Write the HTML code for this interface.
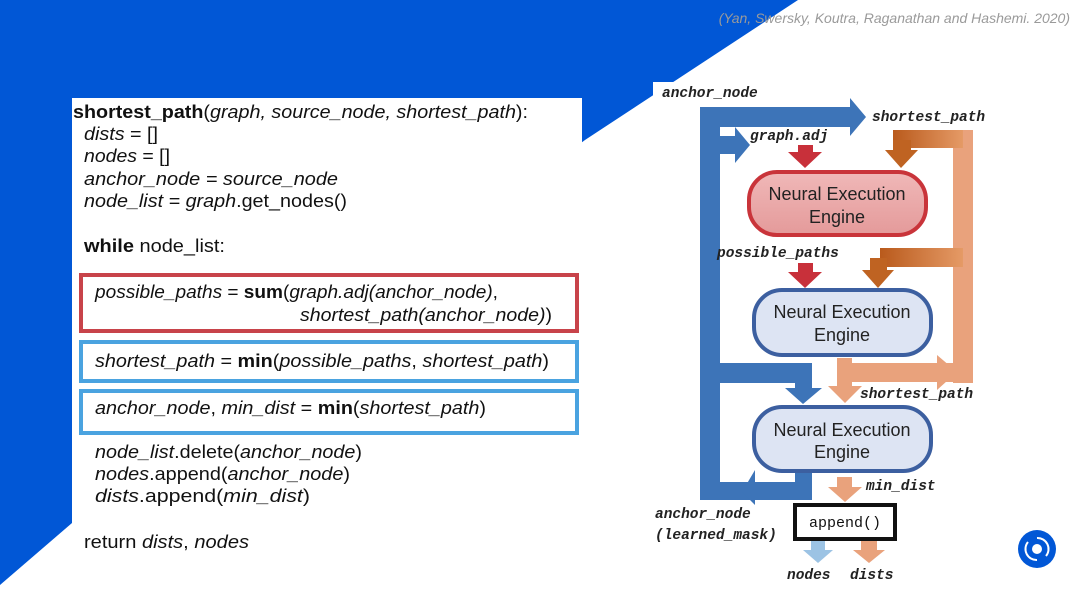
<!DOCTYPE html>
<html><head><meta charset="utf-8"><style>
html,body{margin:0;padding:0;background:#fff}
svg{display:block}
.c{font-family:"Liberation Sans",sans-serif;font-size:18px;fill:#111}
.m{font-family:"Liberation Mono",monospace;font-size:14.5px;font-style:italic;font-weight:bold;fill:#222}
.n{font-family:"Liberation Sans",sans-serif;font-size:18px;fill:#222;text-anchor:middle}
</style></head><body>
<svg width="1080" height="608" viewBox="0 0 1080 608" xmlns="http://www.w3.org/2000/svg">
<defs>
<linearGradient id="og" x1="0" y1="0" x2="1" y2="0"><stop offset="0" stop-color="#b95a1c"/><stop offset="1" stop-color="#e59a66"/></linearGradient>
<linearGradient id="rg" x1="0" y1="0" x2="0" y2="1"><stop offset="0" stop-color="#f0b8b8"/><stop offset="1" stop-color="#e49a9a"/></linearGradient>
</defs>
<polygon points="0,0 798,0 585,140 72,523 0,585" fill="#0157d6"/>
<rect x="72" y="98" width="510" height="510" fill="#fff"/>
<rect x="653" y="82" width="427" height="526" fill="#fff"/>
<text x="1070" y="23" text-anchor="end" style="font-family:'Liberation Sans',sans-serif;font-size:14px;font-style:italic;fill:#9a9a9a">(Yan, Swersky, Koutra, Raganathan and Hashemi. 2020)</text>

<!-- code -->
<text class="c" x="73" y="118" textLength="455" lengthAdjust="spacingAndGlyphs"><tspan font-weight="bold">shortest_path</tspan>(<tspan font-style="italic">graph, source_node, shortest_path</tspan>):</text>
<text class="c" x="84" y="140" textLength="74" lengthAdjust="spacingAndGlyphs"><tspan font-style="italic">dists</tspan> = []</text>
<text class="c" x="84" y="162" textLength="86" lengthAdjust="spacingAndGlyphs"><tspan font-style="italic">nodes</tspan> = []</text>
<text class="c" x="84" y="185" font-style="italic" textLength="254" lengthAdjust="spacingAndGlyphs">anchor_node = source_node</text>
<text class="c" x="84" y="207" textLength="263" lengthAdjust="spacingAndGlyphs"><tspan font-style="italic">node_list = graph</tspan>.get_nodes()</text>
<text class="c" x="84" y="252" textLength="141" lengthAdjust="spacingAndGlyphs"><tspan font-weight="bold">while</tspan> node_list:</text>
<rect x="81" y="275" width="496" height="56" fill="none" stroke="#c8434a" stroke-width="4"/>
<rect x="81" y="342" width="496" height="39" fill="none" stroke="#4aa3e0" stroke-width="4"/>
<rect x="81" y="391" width="496" height="42" fill="none" stroke="#4aa3e0" stroke-width="4"/>
<text class="c" x="95" y="298" textLength="403" lengthAdjust="spacingAndGlyphs"><tspan font-style="italic">possible_paths</tspan> = <tspan font-weight="bold">sum</tspan>(<tspan font-style="italic">graph.adj(anchor_node)</tspan>,</text>
<text class="c" x="300" y="321" textLength="252" lengthAdjust="spacingAndGlyphs"><tspan font-style="italic">shortest_path(anchor_node)</tspan>)</text>
<text class="c" x="95" y="367" textLength="454" lengthAdjust="spacingAndGlyphs"><tspan font-style="italic">shortest_path</tspan> = <tspan font-weight="bold">min</tspan>(<tspan font-style="italic">possible_paths</tspan>, <tspan font-style="italic">shortest_path</tspan>)</text>
<text class="c" x="95" y="414" textLength="391" lengthAdjust="spacingAndGlyphs"><tspan font-style="italic">anchor_node</tspan>, <tspan font-style="italic">min_dist</tspan> = <tspan font-weight="bold">min</tspan>(<tspan font-style="italic">shortest_path</tspan>)</text>
<text class="c" x="95" y="458" textLength="267" lengthAdjust="spacingAndGlyphs"><tspan font-style="italic">node_list</tspan>.delete(<tspan font-style="italic">anchor_node</tspan>)</text>
<text class="c" x="95" y="480" textLength="255" lengthAdjust="spacingAndGlyphs"><tspan font-style="italic">nodes</tspan>.append(<tspan font-style="italic">anchor_node</tspan>)</text>
<text class="c" x="95" y="502" textLength="215" lengthAdjust="spacingAndGlyphs"><tspan font-style="italic">dists</tspan>.append(<tspan font-style="italic">min_dist</tspan>)</text>
<text class="c" x="84" y="548" textLength="165" lengthAdjust="spacingAndGlyphs">return <tspan font-style="italic">dists</tspan>, <tspan font-style="italic">nodes</tspan></text>

<!-- diagram: salmon right column -->
<g fill="#e9a27c">
<rect x="953" y="130" width="20" height="253"/>
<rect x="852" y="363" width="110" height="19"/>
<polygon points="937,355 957,372 937,390"/>
<rect x="837" y="358" width="15" height="30"/>
<polygon points="828,386 862,386 845,403"/>
<rect x="837" y="477" width="15" height="12"/>
<polygon points="828,487 862,487 845,502"/>
<rect x="861" y="541" width="16" height="10"/>
<polygon points="853,550 885,550 869,563"/>
</g>
<g fill="url(#og)">
<rect x="893" y="130" width="70" height="18"/>
<rect x="880" y="248" width="83" height="19"/>
</g>
<g fill="#bf6322">
<rect x="893" y="140" width="18" height="12"/>
<polygon points="885,150 918,150 901,168"/>
<rect x="870" y="258" width="17" height="14"/>
<polygon points="862,270 894,270 878,288"/>
</g>
<!-- red arrows -->
<g fill="#c8303a">
<rect x="798" y="145" width="15" height="8"/>
<polygon points="788,152 822,152 805,168"/>
<rect x="798" y="263" width="15" height="10"/>
<polygon points="788,272 822,272 805,288"/>
</g>
<!-- blue -->
<g fill="#3d74b8">
<rect x="700" y="107" width="20" height="393"/>
<rect x="700" y="107" width="152" height="20"/>
<polygon points="850,98 866,117 850,136"/>
<rect x="720" y="136" width="17" height="18"/>
<polygon points="735,127 750,145 735,163"/>
<rect x="720" y="363" width="92" height="20"/>
<rect x="795" y="363" width="17" height="28"/>
<polygon points="785,388 822,388 803,404"/>
<rect x="700" y="482" width="112" height="18"/>
<rect x="795" y="472" width="17" height="20"/>
<polygon points="755,470 742,492 755,505"/>
</g>
<!-- nodes -->
<rect x="749" y="172" width="177" height="63" rx="28" fill="url(#rg)" stroke="#c9343a" stroke-width="4"/>
<text class="n" x="837" y="200">Neural Execution</text><text class="n" x="837" y="223">Engine</text>
<rect x="754" y="290" width="177" height="65" rx="28" fill="#dde4f3" stroke="#3c5fa0" stroke-width="4"/>
<text class="n" x="842" y="318">Neural Execution</text><text class="n" x="842" y="341">Engine</text>
<rect x="754" y="407" width="177" height="64" rx="28" fill="#dde4f3" stroke="#3c5fa0" stroke-width="4"/>
<text class="n" x="842" y="436">Neural Execution</text><text class="n" x="842" y="458">Engine</text>
<rect x="795" y="505" width="100" height="34" fill="#fff" stroke="#111" stroke-width="4"/>
<text x="845" y="527" text-anchor="middle" style="font-family:'Liberation Mono',monospace;font-size:15px;fill:#111">append()</text>
<rect x="811" y="541" width="14" height="10" fill="#9cc3e4"/>
<polygon points="803,550 833,550 818,563" fill="#9cc3e4"/>
<!-- labels -->
<text class="m" x="662" y="97">anchor_node</text>
<text class="m" x="872" y="121">shortest_path</text>
<text class="m" x="750" y="140">graph.adj</text>
<text class="m" x="717" y="257">possible_paths</text>
<text class="m" x="860" y="398">shortest_path</text>
<text class="m" x="866" y="490">min_dist</text>
<text class="m" x="655" y="518">anchor_node</text>
<text class="m" x="655" y="539">(learned_mask)</text>
<text class="m" x="787" y="579">nodes</text>
<text class="m" x="850" y="579">dists</text>
<!-- logo -->
<circle cx="1037" cy="549" r="19" fill="#0157d6"/>
<path d="M1037,538 A11,11 0 0 1 1046,556" fill="none" stroke="#fff" stroke-width="2"/>
<path d="M1037,560 A11,11 0 0 1 1028,542" fill="none" stroke="#fff" stroke-width="2"/>
<circle cx="1037" cy="549" r="5" fill="#fff"/>
</svg>
</body></html>
